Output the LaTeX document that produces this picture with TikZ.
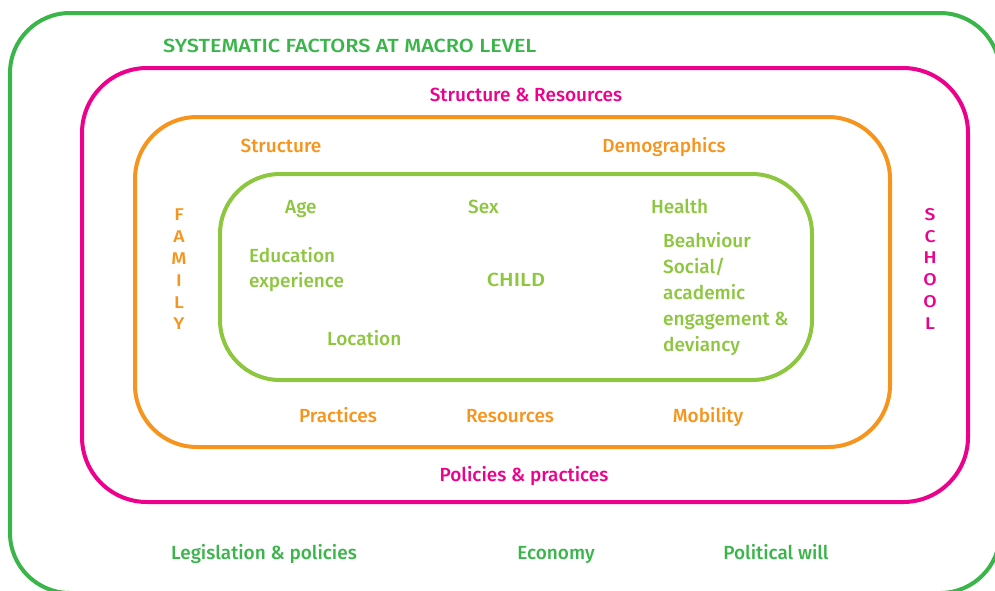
\documentclass[tikz,border=0pt]{standalone}
\usepackage{fontspec}
\setmainfont{Fira Sans}[UprightFont={* Medium}]
\newfontfamily\capsfont{Fira Sans Medium}[FakeStretch=1.14]
\definecolor{macrogreen}{HTML}{39B54A}
\definecolor{schoolpink}{HTML}{EC008C}
\definecolor{familyorange}{HTML}{F7941D}
\definecolor{childlime}{HTML}{8DC63F}
\begin{document}
\begin{tikzpicture}[x=1pt,y=-1pt,
  ring/.style={line width=4pt,rounded corners=#1},
  lbl/.style={inner sep=0pt,font=\fontsize{19}{25}\selectfont,anchor=base},
  lblw/.style={lbl,anchor=base west},
  caps/.style={font=\capsfont\fontsize{19}{25}\selectfont},
  vert/.style={inner sep=0pt,font=\capsfont\fontsize{17}{21.8}\selectfont,align=center,anchor=north}]
\useasboundingbox (0,0) rectangle (995,590);
\clip (0,0) rectangle (995,590);
% nested context boxes
\draw[ring=60,macrogreen] (10,13) rectangle (1000,593);
\draw[ring=65,schoolpink] (82,68) rectangle (968,502);
\draw[ring=62,familyorange] (135,117) rectangle (890,447);
\draw[ring=60,childlime] (220,174) rectangle (812,380);
% macro level
\node[lblw,caps,text=macrogreen] (macro) at (163,52) {SYSTEMATIC FACTORS AT MACRO LEVEL};
\node[lbl,text=macrogreen] (legis) at (264,559) {Legislation \& policies};
\node[lbl,text=macrogreen] (econ) at (556,559) {Economy};
\node[lbl,text=macrogreen] (polit) at (776,559) {Political will};
% school
\node[lbl,text=schoolpink] (sres) at (526,101) {Structure \& Resources};
\node[lbl,text=schoolpink] (spol) at (524,481) {Policies \& practices};
\node[vert,text=schoolpink] (school) at (930,208) {S\\C\\H\\O\\O\\L};
% family
\node[lbl,text=familyorange] (fstruct) at (281,152) {Structure};
\node[lbl,text=familyorange] (fdemo) at (664,152) {Demographics};
\node[lbl,text=familyorange] (fprac) at (338,422) {Practices};
\node[lbl,text=familyorange] (fres) at (510,422) {Resources};
\node[lbl,text=familyorange] (fmob) at (708,422) {Mobility};
\node[vert,text=familyorange] (family) at (179,209) {F\\A\\M\\I\\L\\Y};
% child
\node[lbl,caps,text=childlime] (child) at (516,286) {CHILD};
\node[lblw,text=childlime] (age) at (285,213) {Age};
\node[lblw,text=childlime] (sex) at (468,213) {Sex};
\node[lblw,text=childlime] (health) at (651,213) {Health};
\node[lblw,text=childlime,align=left,anchor=north west] (edu) at (249,247) {Education\\experience};
\node[lblw,text=childlime] (loc) at (327,345) {Location};
\node[lblw,text=childlime,align=left,anchor=north west,font=\fontsize{19}{26}\selectfont] (behav) at (663,232) {Beahviour\\Social/\\academic\\engagement \&\\deviancy};
\end{tikzpicture}
\end{document}
